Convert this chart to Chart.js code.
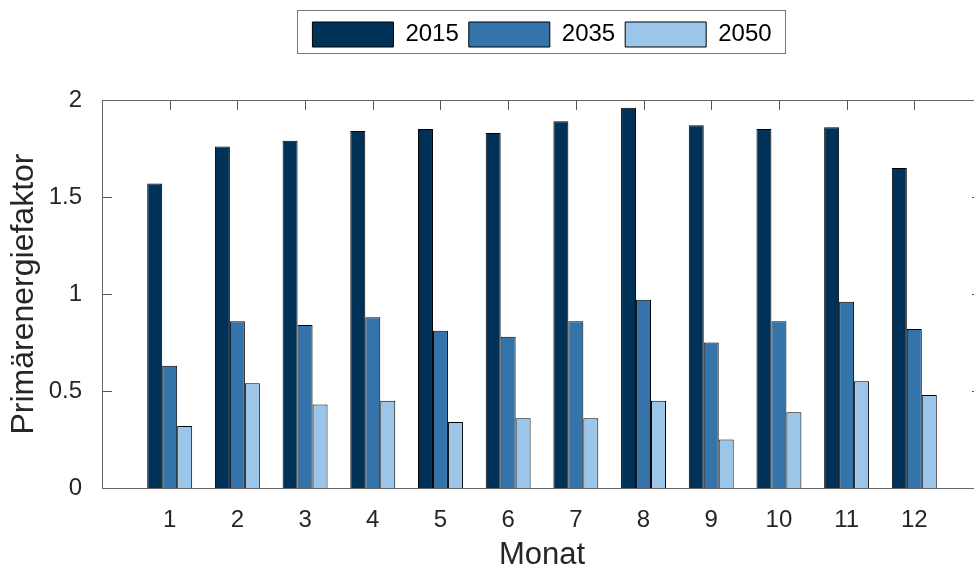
<!DOCTYPE html>
<html><head><meta charset="utf-8">
<script src="https://cdn.jsdelivr.net/npm/chart.js@4/dist/chart.umd.min.js"></script>
<style>html,body{margin:0;padding:0;overflow:hidden;background:#fff;width:974px;height:574px}
#wrap{width:1089px;height:574px}</style></head>
<body><div id="wrap"><canvas id="c" width="1089" height="574"></canvas></div>
<script>
const months = ['1','2','3','4','5','6','7','8','9','10','11','12'];
const seriesNames = ['2015','2035','2050'];
const values2015 = [1.57,1.76,1.79,1.84,1.85,1.83,1.89,1.96,1.87,1.85,1.86,1.65];
const values2035 = [0.63,0.86,0.84,0.88,0.81,0.78,0.86,0.97,0.75,0.86,0.96,0.82];
const values2050 = [0.32,0.54,0.43,0.45,0.34,0.36,0.36,0.45,0.25,0.39,0.55,0.48];
const yTicks = [0,0.5,1,1.5,2];
const colors = ['#003157','#3474aa','#9bc6ea'];

const FONT = "'Liberation Sans', Arial, Helvetica, sans-serif";
const labels = ['', ...months, ''];
const pad = a => [null, ...a, null];
const EXTRA = 43;

const frame = {
  id: 'frame',
  beforeInit(chart) {
    const lg = chart.legend;
    const fit = lg.fit;
    lg.fit = function () { fit.call(this); this.height += EXTRA; };
  },
  beforeDatasetsDraw(chart) {
    const ctx = chart.ctx, a = chart.chartArea, xs = chart.scales.x, ys = chart.scales.y;
    ctx.save(); ctx.strokeStyle = '#555'; ctx.lineWidth = 1;
    ctx.beginPath();
    for (let i = 1; i <= months.length; i++) {
      const px = Math.round(xs.getPixelForValue(i)) + 0.5;
      ctx.moveTo(px, a.top); ctx.lineTo(px, a.top + 10);
      ctx.moveTo(px, a.bottom); ctx.lineTo(px, a.bottom - 10);
    }
    for (const v of yTicks) {
      const py = Math.round(ys.getPixelForValue(v)) + 0.5;
      ctx.moveTo(a.left, py); ctx.lineTo(a.left + 10, py);
      ctx.moveTo(a.right, py); ctx.lineTo(a.right - 10, py);
    }
    ctx.stroke(); ctx.restore();
  },
  afterDraw(chart) {
    const ctx = chart.ctx, a = chart.chartArea;
    ctx.save(); ctx.strokeStyle = '#666'; ctx.lineWidth = 1;
    ctx.strokeRect(Math.round(a.left) + 0.5, Math.round(a.top) + 0.5, Math.round(a.right - a.left), Math.round(a.bottom - a.top));
    const hb = chart.legend.legendHitBoxes;
    if (hb && hb.length) {
      const l = hb[0].left - 15, r = hb[hb.length - 1].left + hb[hb.length - 1].width + 14;
      const cy = hb[0].top + hb[0].height / 2;
      ctx.strokeStyle = '#777';
      ctx.strokeRect(Math.round(l) + 0.5, Math.round(cy - 25) + 0.5, Math.round(r - l), 43);
    }
    ctx.restore();
  }
};

const mk = (name, vals, col) => ({
  label: name, data: pad(vals), backgroundColor: col, borderColor: '#000', borderWidth: 1,
  categoryPercentage: 0.664, barPercentage: 1, borderSkipped: 'start'
});

new Chart(document.getElementById('c'), {
  type: 'bar',
  data: {
    labels,
    datasets: [
      mk(seriesNames[0], values2015, colors[0]),
      mk(seriesNames[1], values2035, colors[1]),
      mk(seriesNames[2], values2050, colors[2])
    ]
  },
  options: {
    responsive: false, animation: false, devicePixelRatio: 1,
    layout: { padding: { top: 12, right: 107, left: 0, bottom: 0 } },
    plugins: {
      tooltip: { enabled: false },
      legend: {
        position: 'top', fullSize: false,
        labels: { boxWidth: 81, boxHeight: 25, padding: 10, color: '#000', font: { family: FONT, size: 24 } }
      }
    },
    scales: {
      x: {
        type: 'category', offset: false,
        grid: { display: false }, border: { display: false },
        ticks: { font: { family: FONT, size: 24 }, color: '#262626', padding: 10, maxRotation: 0, autoSkip: false },
        title: { display: true, text: 'Monat', font: { family: FONT, size: 31 }, color: '#262626', padding: { top: 0, bottom: 0 } },
        afterFit: s => { s.height = 86; }
      },
      y: {
        min: 0, max: 2,
        grid: { display: false }, border: { display: false },
        ticks: { stepSize: 0.5, font: { family: FONT, size: 24 }, color: '#262626', padding: 12, callback: v => String(v) },
        title: { display: true, text: 'Primärenergiefaktor', font: { family: FONT, size: 32 }, color: '#262626', padding: { top: 5, bottom: 0 } },
        afterFit: s => { s.width = 102; }
      }
    }
  },
  plugins: [frame]
});
</script></body></html>
